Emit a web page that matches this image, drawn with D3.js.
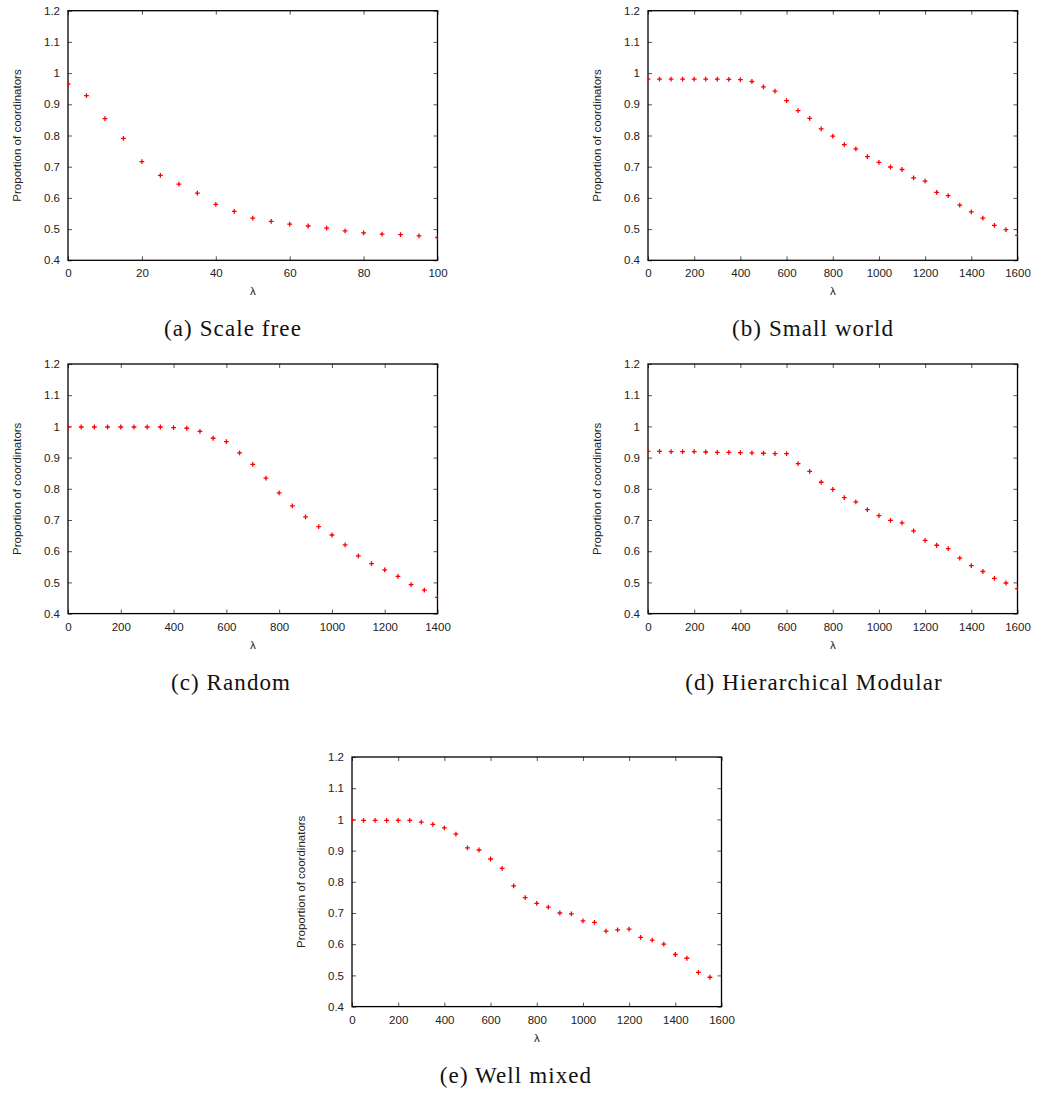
<!DOCTYPE html>
<html>
<head>
<meta charset="utf-8">
<script src="https://cdn.jsdelivr.net/npm/d3@7"></script>
<style>
  body { margin: 0; background: #fff; }
  .tick text { font-family: "Liberation Sans", Arial, sans-serif; font-size: 11.5px; fill: #222; }
  .tick line { stroke: #555; }
  .axis-label { font-family: "Liberation Sans", Arial, sans-serif; font-size: 11.5px; fill: #222; }
  .caption { font-family: "Liberation Serif", "Times New Roman", serif; font-size: 23px; fill: #111; letter-spacing: 1.1px; }
</style>
</head>
<body>
<svg id="chart" width="1037" height="1093"></svg>
<script>
// lambda values sampled every 5 (scale free) and every 50 (the other networks)
var lambdaScaleFree = [0, 5, 10, 15, 20, 25, 30, 35, 40, 45, 50, 55, 60, 65, 70, 75, 80, 85, 90, 95, 100];
var lambdaSteps = [0, 50, 100, 150, 200, 250, 300, 350, 400, 450, 500, 550, 600, 650, 700, 750,
    800, 850, 900, 950, 1000, 1050, 1100, 1150, 1200, 1250, 1300, 1350, 1400, 1450, 1500, 1550, 1600];

// proportion of coordinators
var scaleFree = [0.965, 0.928, 0.854, 0.791, 0.716, 0.672, 0.644, 0.615, 0.579, 0.557, 0.535,
    0.525, 0.516, 0.510, 0.503, 0.494, 0.488, 0.484, 0.482, 0.478, 0.473];
var smallWorld = [0.981, 0.981, 0.981, 0.981, 0.981, 0.981, 0.981, 0.980, 0.979, 0.973, 0.956,
    0.942, 0.912, 0.880, 0.855, 0.821, 0.798, 0.771, 0.757, 0.732, 0.714, 0.699, 0.691, 0.664,
    0.654, 0.618, 0.607, 0.577, 0.555, 0.535, 0.512, 0.498, 0.480];
var random = [0.998, 0.998, 0.998, 0.998, 0.998, 0.998, 0.998, 0.998, 0.996, 0.994, 0.984,
    0.962, 0.951, 0.915, 0.878, 0.834, 0.787, 0.745, 0.710, 0.679, 0.652, 0.620, 0.585, 0.560,
    0.540, 0.519, 0.493, 0.475, 0.452];
var hierModular = [0.920, 0.920, 0.919, 0.919, 0.919, 0.918, 0.917, 0.917, 0.916, 0.915, 0.914,
    0.913, 0.913, 0.881, 0.856, 0.821, 0.798, 0.772, 0.758, 0.733, 0.714, 0.699, 0.691, 0.665,
    0.635, 0.619, 0.608, 0.578, 0.554, 0.535, 0.513, 0.498, 0.480];
var wellMixed = [0.997, 0.997, 0.997, 0.997, 0.997, 0.997, 0.991, 0.984, 0.973, 0.953, 0.909,
    0.902, 0.873, 0.843, 0.787, 0.749, 0.731, 0.719, 0.700, 0.697, 0.675, 0.670, 0.642, 0.646,
    0.648, 0.622, 0.613, 0.600, 0.567, 0.555, 0.510, 0.494];

var yTicks = [0.4, 0.5, 0.6, 0.7, 0.8, 0.9, 1, 1.1, 1.2];
var xTicksScaleFree = [0, 20, 40, 60, 80, 100];
var xTicks1400 = [0, 200, 400, 600, 800, 1000, 1200, 1400];
var xTicks1600 = [0, 200, 400, 600, 800, 1000, 1200, 1400, 1600];

var captions = ['(a) Scale free', '(b) Small world', '(c) Random', '(d) Hierarchical Modular', '(e) Well mixed'];

var panels = [
    {left: 68, top: 10.7, xs: lambdaScaleFree, ys: scaleFree, xMax: 100, xTicks: xTicksScaleFree, capX: 233},
    {left: 648, top: 10.7, xs: lambdaSteps, ys: smallWorld, xMax: 1600, xTicks: xTicks1600, capX: 813},
    {left: 68, top: 364, xs: lambdaSteps, ys: random, xMax: 1400, xTicks: xTicks1400, capX: 231},
    {left: 648, top: 364, xs: lambdaSteps, ys: hierModular, xMax: 1600, xTicks: xTicks1600, capX: 814},
    {left: 352, top: 757, xs: lambdaSteps, ys: wellMixed, xMax: 1600, xTicks: xTicks1600, capX: 516}
];

var plotW = 369.5,
    plotH = 249.6,
    tickLen = 4;

var svg = d3.select('#chart');

panels.forEach(function(p, idx) {
    var g = svg.append('g').attr('transform', 'translate(' + p.left + ',' + p.top + ')');

    var x = d3.scaleLinear().domain([0, p.xMax]).range([0, plotW]);
    var y = d3.scaleLinear().domain([0.4, 1.2]).range([plotH, 0]);

    // inward ticks on all four sides, gnuplot style
    g.append('g').attr('transform', 'translate(0,' + plotH + ')')
        .call(d3.axisBottom(x).tickValues(p.xTicks).tickSize(-tickLen).tickSizeOuter(0).tickPadding(9)
            .tickFormat(d3.format('d')))
        .call(function(a) { a.select('.domain').remove(); });
    g.append('g')
        .call(d3.axisTop(x).tickValues(p.xTicks).tickSize(-tickLen).tickSizeOuter(0).tickFormat(''))
        .call(function(a) { a.select('.domain').remove(); });
    g.append('g')
        .call(d3.axisLeft(y).tickValues(yTicks).tickSize(-tickLen).tickSizeOuter(0).tickPadding(8)
            .tickFormat(d3.format('~g')))
        .call(function(a) { a.select('.domain').remove(); });
    g.append('g').attr('transform', 'translate(' + plotW + ',0)')
        .call(d3.axisRight(y).tickValues(yTicks).tickSize(-tickLen).tickSizeOuter(0).tickFormat(''))
        .call(function(a) { a.select('.domain').remove(); });

    g.append('rect')
        .attr('width', plotW)
        .attr('height', plotH)
        .attr('fill', 'none')
        .attr('stroke', '#000')
        .attr('stroke-width', 1.3);

    var clipId = 'clip' + idx;
    g.append('clipPath').attr('id', clipId)
        .append('rect').attr('width', plotW).attr('height', plotH);

    var pts = p.ys.map(function(v, i) { return {x: p.xs[i], y: v}; });
    g.append('g').attr('clip-path', 'url(#' + clipId + ')')
        .selectAll('path')
        .data(pts)
        .enter()
        .append('path')
            .attr('d', function(d) {
                var cx = x(d.x), cy = y(d.y), r = 2.4;
                return 'M' + (cx - r) + ',' + cy + 'H' + (cx + r) + 'M' + cx + ',' + (cy - r) + 'V' + (cy + r);
            })
            .attr('stroke', '#ff0000')
            .attr('stroke-width', 1.3)
            .attr('fill', 'none');

    g.append('text')
        .attr('class', 'axis-label')
        .attr('text-anchor', 'middle')
        .attr('transform', 'translate(-47,' + (plotH / 2) + ') rotate(-90)')
        .text('Proportion of coordinators');

    g.append('text')
        .attr('class', 'axis-label')
        .attr('text-anchor', 'middle')
        .attr('x', plotW / 2)
        .attr('y', plotH + 35)
        .text('λ');

    svg.append('text')
        .attr('class', 'caption')
        .attr('text-anchor', 'middle')
        .attr('x', p.capX)
        .attr('y', p.top + 325.5)
        .text(captions[idx]);
});
</script>
</body>
</html>
